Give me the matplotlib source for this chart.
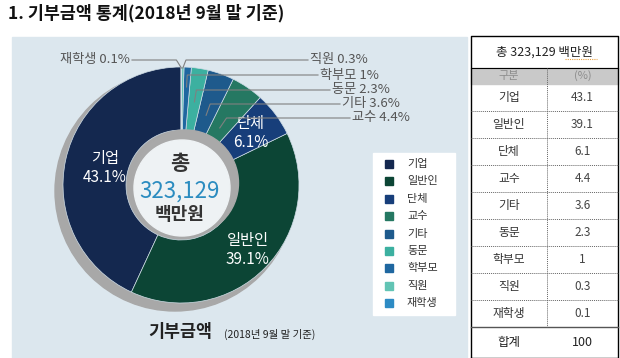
import numpy as np
import matplotlib

matplotlib.use("Agg")
import matplotlib.pyplot as plt
from matplotlib.patches import Circle, Rectangle

plt.rcParams["font.family"] = ["Noto Sans CJK KR", "DejaVu Sans"]

# 데이터
categories = ["기업", "일반인", "단체", "교수", "기타", "동문", "학부모", "직원", "재학생"]
shares = [43.1, 39.1, 6.1, 4.4, 3.6, 2.3, 1, 0.3, 0.1]
share_text = ["43.1", "39.1", "6.1", "4.4", "3.6", "2.3", "1", "0.3", "0.1"]
total_text = "323,129"
colors = ["#14284f", "#0c4535", "#173e7a", "#257862", "#1e5a8c",
          "#3cb0a0", "#1f67a0", "#62c4b4", "#2d8bc4"]

W, H = 620, 358
fig = plt.figure(figsize=(W / 100, H / 100), dpi=100)
ax = fig.add_axes([0, 0, 1, 1])

cx, cy, R = 181, 185, 118
hole = 55

# 배경 패널
ax.add_patch(Rectangle((12, 37), 455, 330, color="#dce7ee", zorder=0))

# 그림자
ax.add_patch(Circle((175, 191), R + 2, color="#a8a8a8", zorder=1))

# 도넛: y축을 뒤집으므로 startangle=-90, 시계방향 지정이 화면에선 반시계
wedges, _ = ax.pie(shares, colors=colors, startangle=-90, counterclock=False,
                   radius=R, center=(cx, cy),
                   wedgeprops=dict(width=R - hole, edgecolor="#cfdde6",
                                   linewidth=0.5, zorder=2))
for w in wedges:
    w.set_zorder(2)

ax.add_patch(Circle((185.5, 183), 53, color="#a9a9a9", zorder=3))
ax.add_patch(Circle((182, 188), 48, color="#eef2f4", zorder=4))

ax.text(180, 163, "총", ha="center", va="center", fontsize=15,
        fontweight="bold", color="#333333", zorder=5)
ax.text(180, 191, total_text, ha="center", va="center", fontsize=16,
        fontweight="medium", color="#2b8cc0", zorder=5)
ax.text(180, 215, "백만원", ha="center", va="center", fontsize=13,
        fontweight="bold", color="#333333", zorder=5)

# 조각 중심 각도 (화면 기준, 위쪽에서 반시계)
frac = np.cumsum([0] + shares) / np.sum(shares)
mid = np.deg2rad(90 + 360 * (frac[:-1] + frac[1:]) / 2)

# 안쪽 라벨
inside = {0: 78, 1: 93, 2: 87}
for i, rr in inside.items():
    x = cx + rr * np.cos(mid[i])
    y = cy - rr * np.sin(mid[i])
    ax.text(x, y, f"{categories[i]}\n{share_text[i]}%", ha="center",
            va="center", fontsize=11, color="white", linespacing=1.15,
            zorder=5)

# 바깥 라벨 + 지시선
outside = {3: (352, 118), 4: (342, 104), 5: (332, 90), 6: (320, 75),
           7: (310, 60), 8: (130, 60)}
for i, (tx, ty) in outside.items():
    a = mid[i]
    rk = (cy - ty) / np.sin(a)
    kx = cx + rk * np.cos(a)
    if i == 8:
        kx -= 5
    elif i == 7:
        kx += 3
    re = min(rk - 12, R - 1) if i < 7 else R - 1
    ex = cx + re * np.cos(a)
    ey = cy - re * np.sin(a)
    if i == 8:
        ax.plot([tx + 2, kx, ex], [ty, ty, ey], color="#808080", lw=0.8,
                zorder=6)
        ax.text(tx, ty, f"{categories[i]} {share_text[i]}%", ha="right",
                va="center", fontsize=9.5, color="#555555", zorder=6)
    else:
        ax.plot([tx - 2, kx, ex], [ty, ty, ey], color="#808080", lw=0.8,
                zorder=6)
        ax.text(tx, ty, f"{categories[i]} {share_text[i]}%", ha="left",
                va="center", fontsize=9.5, color="#555555", zorder=6)

# 범례
ax.add_patch(Rectangle((373, 153), 82, 162, color="white", zorder=1))
for i, c in enumerate(categories):
    y = 164 + i * 17.4
    ax.add_patch(Rectangle((385, y - 4), 8, 8, color=colors[i], zorder=2))
    ax.text(407, y, c, ha="left", va="center", fontsize=8, color="#333333",
            zorder=2)

# 아래 제목
ax.text(148, 332, "기부금액", ha="left", va="center", fontsize=12.5,
        fontweight="bold", color="#222222")
ax.text(224, 334, "(2018년 9월 말 기준)", ha="left", va="center", fontsize=7.5,
        color="#222222")

# 제목
ax.text(8, 13, "1. 기부금액 통계(2018년 9월 말 기준)", ha="left", va="center",
        fontsize=12.5, fontweight="bold", color="#111111")

# 표
tl, tr, tc = 471, 618, 547
top, h1, h2 = 36, 68, 84
row_h = 27
rows_end = h2 + row_h * len(categories)
ax.add_patch(Rectangle((tl, h1), tr - tl, h2 - h1, color="#c9c9c9", zorder=1))
ax.plot([tl, tr, tr, tl, tl], [H, H, top, top, H], color="black", lw=1,
        zorder=3)
ax.plot([tl, tr], [h1, h1], color="black", lw=0.8, zorder=3)
ax.plot([tl, tr], [rows_end, rows_end], color="#555555", lw=1, zorder=3)
ax.plot([tc, tc], [h1, rows_end], color="#666666", lw=0.7, ls=(0, (1, 1)),
        zorder=3)
for k in range(len(categories) - 1):
    y = h2 + row_h * (k + 1)
    ax.plot([tl, tr], [y, y], color="#666666", lw=0.7, ls=(0, (1, 1)),
            zorder=3)

ax.text((tl + tr) / 2, 52, f"총 {total_text} 백만원", ha="center",
        va="center", fontsize=9, color="#222222")
# 맞춤법 검사 밑줄
ax.plot([565, 597], [59, 59], color="#e8a040", lw=0.8, ls=(0, (1, 1)),
        zorder=3)
ax.text((tl + tc) / 2, (h1 + h2) / 2, "구분", ha="center", va="center",
        fontsize=8, color="#8c8c8c")
ax.text((tc + tr) / 2, (h1 + h2) / 2, "(%)", ha="center", va="center",
        fontsize=8, color="#8c8c8c")
for k, c in enumerate(categories):
    y = h2 + row_h * (k + 0.5)
    ax.text((tl + tc) / 2, y, c, ha="center", va="center", fontsize=8.5,
            color="#333333")
    ax.text((tc + tr) / 2, y, share_text[k], ha="center", va="center",
            fontsize=8.5, color="#444444")
ax.text((tl + tc) / 2, (rows_end + H) / 2, "합계", ha="center", va="center",
        fontsize=9, color="#222222")
ax.text((tc + tr) / 2, (rows_end + H) / 2, "100", ha="center", va="center",
        fontsize=9, color="#222222")

ax.set_xlim(0, W)
ax.set_ylim(H, 0)
ax.set_aspect("auto")
ax.axis("off")

fig.savefig("out.png", dpi=100, facecolor="white")
